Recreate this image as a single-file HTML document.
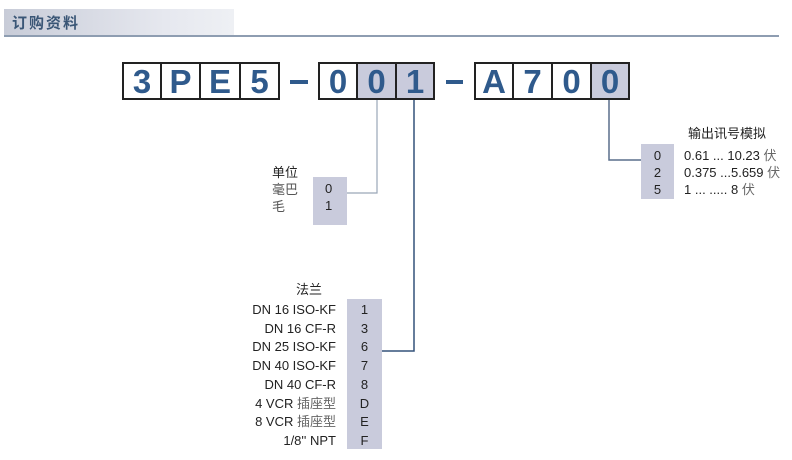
<!DOCTYPE html>
<html><head><meta charset="utf-8"><style>
body{margin:0;width:792px;height:460px;background:#fff;position:relative;overflow:hidden;font-family:"Liberation Sans","Noto Sans CJK SC",sans-serif}
.a{position:absolute}
.b{position:absolute;top:62px;height:38px;border:2px solid #222;box-sizing:border-box;font-weight:bold;font-size:33px;color:#2f5a8c;text-align:center;line-height:36px;background:#fff}
.g{background:#c9cbdc}
.t{position:absolute;font-size:13px;color:#222;white-space:nowrap}
</style></head><body>
<div class="a" style="left:4px;top:9px;width:230px;height:27px;background:linear-gradient(90deg,#c8ccd8,#e6e8ef 70%,#eef0f4)"></div>
<div class="a" style="left:4px;top:35px;width:775px;height:2px;background:#8e9db1"></div>
<div class="a" style="left:12px;top:12px;font-size:15px;color:#3a5676;letter-spacing:2px;font-weight:bold">订购资料</div>

<div class="b" style="left:122px;width:40px">3</div>
<div class="b" style="left:160px;width:41px">P</div>
<div class="b" style="left:199px;width:42px">E</div>
<div class="b" style="left:239px;width:41px">5</div>
<div class="a" style="left:290px;top:80px;width:18px;height:4px;background:#2f5a8c"></div>
<div class="b" style="left:318px;width:40px">0</div>
<div class="b g" style="left:356px;width:41px">0</div>
<div class="b g" style="left:395px;width:40px">1</div>
<div class="a" style="left:446px;top:80px;width:17px;height:4px;background:#2f5a8c"></div>
<div class="b" style="left:474px;width:40px">A</div>
<div class="b" style="left:512px;width:41px">7</div>
<div class="b" style="left:551px;width:41px">0</div>
<div class="b g" style="left:590px;width:40px">0</div>

<svg class="a" style="left:0;top:0" width="792" height="460">
<polyline points="377,100 377,193 347,193" fill="none" stroke="#9aa6b8" stroke-width="1.2"/>
<polyline points="414,100 414,351 382,351" fill="none" stroke="#34527a" stroke-width="1.5"/>
<polyline points="609,100 609,160 641,160" fill="none" stroke="#5a6f8c" stroke-width="1.5"/>
</svg>

<div class="t" style="left:272px;top:162px">单位</div>
<div class="t" style="left:272px;top:179px;color:#555">毫巴</div>
<div class="t" style="left:272px;top:196px;color:#555">毛</div>
<div class="a g" style="left:313px;top:177px;width:34px;height:48px"></div>
<div class="t" style="left:325px;top:181px">0</div>
<div class="t" style="left:325px;top:198px">1</div>

<div class="t" style="left:296px;top:279px">法兰</div>
<div class="a g" style="left:347px;top:299px;width:35px;height:150px"></div>
<div class="a" style="left:200px;top:301px;width:136px;text-align:right;font-size:13px;line-height:18.7px;color:#222">DN 16 ISO-KF<br>DN 16 CF-R<br>DN 25 ISO-KF<br>DN 40 ISO-KF<br>DN 40 CF-R<br>4 VCR <span style="color:#666">插座型</span><br>8 VCR <span style="color:#666">插座型</span><br>1/8'' NPT</div>
<div class="a" style="left:347px;top:301px;width:35px;text-align:center;font-size:13px;line-height:18.7px;color:#222">1<br>3<br>6<br>7<br>8<br>D<br>E<br>F</div>

<div class="t" style="left:688px;top:123px">输出讯号模拟</div>
<div class="a g" style="left:641px;top:144px;width:33px;height:55px"></div>
<div class="a" style="left:641px;top:147px;width:33px;text-align:center;font-size:13px;line-height:17px;color:#222">0<br>2<br>5</div>
<div class="a" style="left:684px;top:147px;font-size:13px;line-height:17px;color:#222;white-space:nowrap">0.61 ... 10.23 <span style="color:#666">伏</span><br>0.375 ...5.659 <span style="color:#666">伏</span><br>1 ... ..... 8 <span style="color:#666">伏</span></div>
</body></html>
